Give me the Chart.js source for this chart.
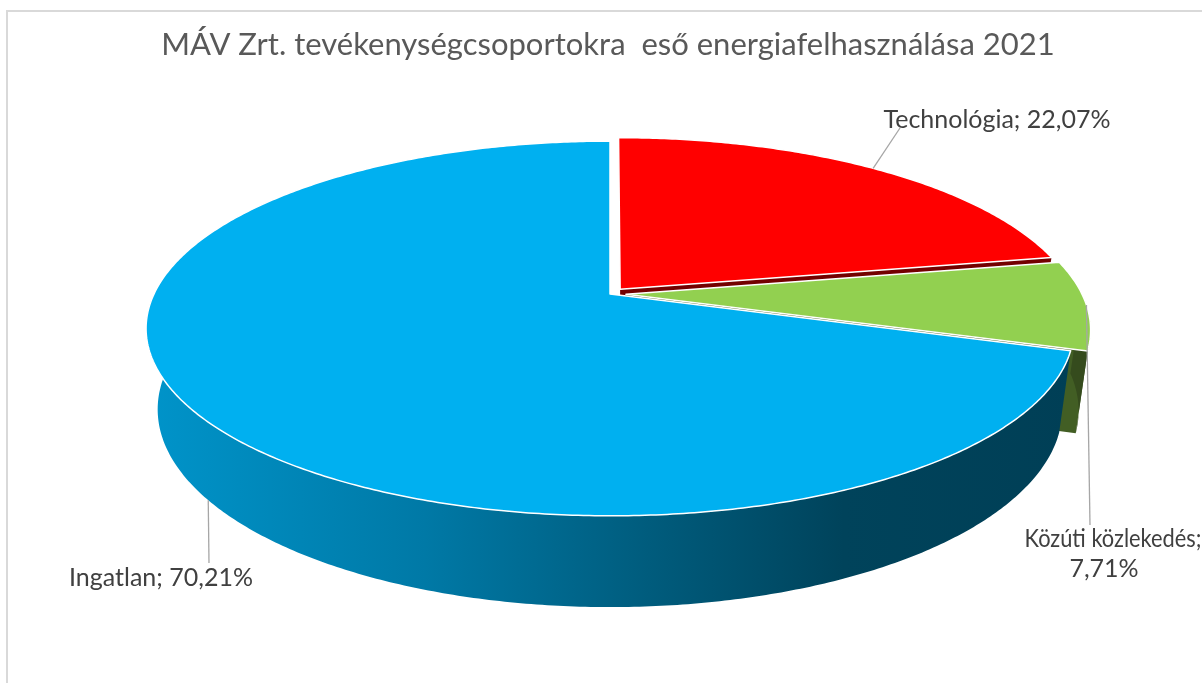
<!DOCTYPE html>
<html>
<head>
<meta charset="utf-8">
<script src="https://cdn.jsdelivr.net/npm/chart.js@4.4.1/dist/chart.umd.min.js"></script>
<style>
    html, body { margin: 0; padding: 0; background: #fff; }
    #energy-chart { display: block; }
</style>
</head>
<body>
<canvas id="energy-chart" width="1202" height="683"></canvas>
<script>
const chartTitle = 'MÁV Zrt. tevékenységcsoportokra  eső energiafelhasználása 2021';
const categories = ['Technológia', 'Közúti közlekedés', 'Ingatlan'];
const shares = [22.07, 7.71, 70.21];
const sliceColours = ['#FF0000', '#92D050', '#00B0F0'];

// 3D view of the pie (perspective-ish projection of a unit disc)
const view = { cx: 610, cy: 294, a: 456, b: 181, k: 0.184, h: 79, s: 0.025 };
const explode = [0.035, 0.035, 0];
const labelFont = '25px Lato';
const labelColour = '#404040';
const leaderColour = '#A6A6A6';
// leader end + text lines (x, y, max width) for each slice label
const labelLayout = [
    { rim: 'top', to: [900, 128], lines: [[997, 120, 230]] },
    { rim: 'top', to: [1090, 525], lines: [[1113, 539, 177], [1104, 569, 70]] },
    { rim: 'bottom', to: [209, 563], lines: [[161, 578, 186]] }
];

function fmtShare(v) {
    return v.toFixed(2).replace('.', ',') + '%';
}

function shade(hex, f) {
    const n = parseInt(hex.slice(1), 16);
    const r = Math.round(((n >> 16) & 255) * f);
    const g = Math.round(((n >> 8) & 255) * f);
    const b = Math.round((n & 255) * f);
    return `rgb(${r}, ${g}, ${b})`;
}

function project(u, v, d) {
    const w = 1 - view.k * v;
    const f = 1 - view.s * d;
    return [view.cx + view.a * u * f / w, view.cy + (view.b * v * f + view.h * d) / w];
}

function pt(s, ang, r, d) {
    return project(r * Math.cos(ang) + s.ex, r * Math.sin(ang) + s.ey, d);
}

function rimPoints(s, a0, a1, d) {
    const steps = Math.max(2, Math.ceil(Math.abs(a1 - a0) / 0.01));
    const pts = [];
    for (let i = 0; i <= steps; i++) {
        pts.push(pt(s, a0 + (a1 - a0) * i / steps, 1, d));
    }
    return pts;
}

function fillPath(ctx, pts, fill, stroke) {
    ctx.beginPath();
    pts.forEach((p, i) => (i ? ctx.lineTo(p[0], p[1]) : ctx.moveTo(p[0], p[1])));
    ctx.closePath();
    ctx.fillStyle = fill;
    ctx.fill();
    if (stroke) {
        ctx.strokeStyle = stroke;
        ctx.lineWidth = 1.5;
        ctx.lineJoin = 'round';
        ctx.stroke();
    }
}

function wallGradient(ctx, colour) {
    const g = ctx.createLinearGradient(146, 0, 1076, 0);
    [[0, 0.84], [0.3, 0.69], [0.54, 0.52], [0.75, 0.38], [1, 0.36]]
        .forEach(([t, f]) => g.addColorStop(t, shade(colour, f)));
    return g;
}

function getSlices(chart) {
    return chart.getDatasetMeta(0).data.map((arc, i) => {
        const { startAngle, endAngle } = arc.getProps(['startAngle', 'endAngle'], true);
        const mid = (startAngle + endAngle) / 2;
        return {
            start: startAngle,
            end: endAngle,
            mid,
            ex: explode[i] * Math.cos(mid),
            ey: explode[i] * Math.sin(mid),
            colour: sliceColours[i]
        };
    });
}

const pie3d = {
    id: 'pie3d',
    beforeDraw(chart) {
        const ctx = chart.ctx;
        ctx.save();
        ctx.strokeStyle = '#D9D9D9';
        ctx.lineWidth = 2;
        ctx.beginPath();
        ctx.moveTo(7, 683);
        ctx.lineTo(7, 11);
        ctx.lineTo(1202, 11);
        ctx.stroke();
        ctx.restore();
    },
    beforeDatasetsDraw(chart) {
        const ctx = chart.ctx;
        const slices = getSlices(chart);
        ctx.save();
        // radial cut faces that look toward the viewer
        slices.forEach((s) => {
            [[s.start, Math.cos(s.start) < -0.001], [s.end, Math.cos(s.end) > 0.001]].forEach(([ang, visible]) => {
                if (!visible) return;
                fillPath(ctx, [pt(s, ang, 0, 0), pt(s, ang, 1, 0), pt(s, ang, 1, 1), pt(s, ang, 0, 1)], shade(s.colour, 0.45));
            });
        });
        // outer walls on the front half
        slices.forEach((s) => {
            const a0 = Math.max(s.start, 0);
            const a1 = Math.min(s.end, Math.PI);
            if (a1 <= a0) return;
            const pts = rimPoints(s, a0, a1, 0).concat(rimPoints(s, a1, a0, 1));
            fillPath(ctx, pts, wallGradient(ctx, s.colour));
        });
        // top faces
        slices.forEach((s) => {
            const pts = [pt(s, s.start, 0, 0)].concat(rimPoints(s, s.start, s.end, 0));
            fillPath(ctx, pts, s.colour, '#FFFFFF');
        });
        ctx.restore();
        return false;
    },
    afterDraw(chart) {
        const ctx = chart.ctx;
        const slices = getSlices(chart);
        ctx.save();
        slices.forEach((s, i) => {
            const lay = labelLayout[i];
            const from = pt(s, s.mid, 1, lay.rim === 'bottom' ? 1 : 0);
            ctx.strokeStyle = leaderColour;
            ctx.lineWidth = 1.3;
            ctx.beginPath();
            ctx.moveTo(from[0], from[1]);
            ctx.lineTo(lay.to[0], lay.to[1]);
            ctx.stroke();
            const text = `${categories[i]}; ${fmtShare(shares[i])}`;
            const lines = lay.lines.length > 1 ? [`${categories[i]};`, fmtShare(shares[i])] : [text];
            ctx.font = labelFont;
            ctx.fillStyle = labelColour;
            ctx.textAlign = 'center';
            ctx.textBaseline = 'middle';
            lines.forEach((line, j) => {
                const [x, y, maxW] = lay.lines[j];
                ctx.fillText(line, x, y, maxW);
            });
        });
        ctx.restore();
    }
};

new Chart(document.getElementById('energy-chart'), {
    type: 'pie',
    data: {
        labels: categories,
        datasets: [{
            data: shares,
            backgroundColor: sliceColours,
            borderWidth: 0
        }]
    },
    options: {
        responsive: false,
        animation: false,
        layout: { padding: { left: 14 } },
        plugins: {
            legend: { display: false },
            tooltip: { enabled: false },
            title: {
                display: true,
                text: chartTitle,
                color: '#595959',
                font: { family: 'Lato', size: 31, weight: 'normal' },
                padding: { top: 26, bottom: 10 }
            }
        }
    },
    plugins: [pie3d]
});
</script>
</body>
</html>
